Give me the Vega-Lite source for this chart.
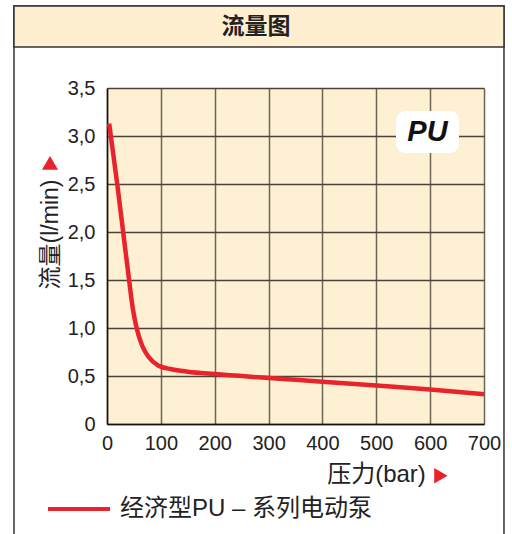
{
  "$schema": "https://vega.github.io/schema/vega-lite/v6.json",
  "autosize": "none",
  "width": 377,
  "height": 336,
  "padding": {"left": 107, "top": 88, "right": 28, "bottom": 110},
  "background": "white",
  "config": {
    "view": {"fill": "#fef0d2", "stroke": null},
    "font": "Liberation Sans, Noto Sans CJK SC"
  },
  "datasets": {
    "curve": [
      {"pressure": 4, "flow": 3.13, "series": "经济型PU – 系列电动泵"},
      {"pressure": 19, "flow": 2.5, "series": "经济型PU – 系列电动泵"},
      {"pressure": 30, "flow": 2.0, "series": "经济型PU – 系列电动泵"},
      {"pressure": 41, "flow": 1.5, "series": "经济型PU – 系列电动泵"},
      {"pressure": 48, "flow": 1.2, "series": "经济型PU – 系列电动泵"},
      {"pressure": 55, "flow": 1.0, "series": "经济型PU – 系列电动泵"},
      {"pressure": 65, "flow": 0.82, "series": "经济型PU – 系列电动泵"},
      {"pressure": 77, "flow": 0.7, "series": "经济型PU – 系列电动泵"},
      {"pressure": 95, "flow": 0.61, "series": "经济型PU – 系列电动泵"},
      {"pressure": 120, "flow": 0.57, "series": "经济型PU – 系列电动泵"},
      {"pressure": 150, "flow": 0.545, "series": "经济型PU – 系列电动泵"},
      {"pressure": 200, "flow": 0.52, "series": "经济型PU – 系列电动泵"},
      {"pressure": 300, "flow": 0.48, "series": "经济型PU – 系列电动泵"},
      {"pressure": 400, "flow": 0.44, "series": "经济型PU – 系列电动泵"},
      {"pressure": 500, "flow": 0.4, "series": "经济型PU – 系列电动泵"},
      {"pressure": 600, "flow": 0.36, "series": "经济型PU – 系列电动泵"},
      {"pressure": 700, "flow": 0.31, "series": "经济型PU – 系列电动泵"}
    ]
  },
  "layer": [
    {
      "data": {"name": "curve"},
      "mark": {"type": "line", "strokeWidth": 4.5, "interpolate": "monotone", "clip": false},
      "encoding": {
        "x": {
          "field": "pressure", "type": "quantitative",
          "scale": {"domain": [0, 700], "nice": false, "zero": false},
          "axis": {
            "values": [0, 100, 200, 300, 400, 500, 600, 700],
            "labelFontSize": 20, "labelColor": "#222", "labelPadding": 9, "labelFlush": false,
            "ticks": false, "domainColor": "#111", "domainWidth": 1.5,
            "gridColor": "#6e6454", "gridWidth": 1.5,
            "title": "压力(bar)", "titleFontSize": 24, "titleFontWeight": "normal", "titleColor": "#222",
            "titleX": 269, "titleY": 50, "titleAlign": "center", "titleBaseline": "middle"
          }
        },
        "y": {
          "field": "flow", "type": "quantitative",
          "scale": {"domain": [0, 3.5], "nice": false, "zero": false},
          "axis": {
            "values": [0, 0.5, 1, 1.5, 2, 2.5, 3, 3.5],
            "labelExpr": "datum.value == 0 ? '0' : replace(format(datum.value, '.1f'), '.', ',')",
            "labelFontSize": 20, "labelColor": "#222", "labelPadding": 12,
            "ticks": false, "domainColor": "#111", "domainWidth": 1.5,
            "gridColor": "#4a4438", "gridWidth": 1.5,
            "title": "流量(l/min)", "titleFontSize": 23, "titleFontWeight": "normal", "titleColor": "#222",
            "titleX": -57, "titleY": 146, "titleAngle": -90, "titleAlign": "center", "titleBaseline": "middle"
          }
        },
        "color": {
          "field": "series", "type": "nominal",
          "scale": {"range": ["#e8232b"]},
          "legend": {
            "orient": "none", "legendX": -61, "legendY": 388, "title": null,
            "symbolType": "stroke", "symbolSize": 3844, "symbolStrokeWidth": 4,
            "labelFontSize": 24, "labelColor": "#222", "labelOffset": 8, "padding": 0,
            "labelLimit": 400
          }
        }
      }
    },
    {
      "data": {"values": [{}]},
      "mark": {"type": "rect", "fillOpacity": 0, "stroke": "#333", "strokeWidth": 1.5, "clip": false},
      "encoding": {
        "x": {"datum": -172.7, "type": "quantitative"},
        "x2": {"datum": 737.1},
        "y": {"datum": 4.354, "type": "quantitative"},
        "y2": {"datum": -1.3}
      }
    },
    {
      "data": {"values": [{}]},
      "mark": {"type": "rect", "fill": "#fdefcf", "stroke": "#333", "strokeWidth": 1.5, "clip": false},
      "encoding": {
        "x": {"datum": -172.7, "type": "quantitative"},
        "x2": {"datum": 737.1},
        "y": {"datum": 4.354, "type": "quantitative"},
        "y2": {"datum": 3.927}
      }
    },
    {
      "data": {"values": [{"label": "流量图"}]},
      "mark": {"type": "text", "fontSize": 23, "fontWeight": "bold", "font": "Noto Sans CJK SC", "color": "#222", "baseline": "middle", "align": "center", "clip": false},
      "encoding": {
        "x": {"datum": 276.6, "type": "quantitative"},
        "y": {"datum": 4.135, "type": "quantitative"},
        "text": {"field": "label"}
      }
    },
    {
      "data": {"values": [{}]},
      "mark": {"type": "rect", "fill": "white", "cornerRadius": 9, "clip": false},
      "encoding": {
        "x": {"datum": 536.6, "type": "quantitative"},
        "x2": {"datum": 653.6},
        "y": {"datum": 2.823, "type": "quantitative"},
        "y2": {"datum": 3.26}
      }
    },
    {
      "data": {"values": [{"label": "PU"}]},
      "mark": {"type": "text", "fontSize": 29, "fontWeight": "bold", "fontStyle": "italic", "font": "Liberation Sans", "color": "#111", "baseline": "middle", "align": "center", "clip": false},
      "encoding": {
        "x": {"datum": 595, "type": "quantitative"},
        "y": {"datum": 3.04, "type": "quantitative"},
        "text": {"field": "label"}
      }
    },
    {
      "data": {"values": [{}]},
      "mark": {"type": "point", "shape": "triangle-right", "filled": true, "color": "#e8232b", "size": 240, "opacity": 1, "clip": false},
      "encoding": {
        "x": {"datum": 620, "type": "quantitative"},
        "y": {"datum": -0.54, "type": "quantitative"}
      }
    },
    {
      "data": {"values": [{}]},
      "mark": {"type": "point", "shape": "triangle-up", "filled": true, "color": "#e8232b", "size": 260, "opacity": 1, "clip": false},
      "encoding": {
        "x": {"datum": -105.8, "type": "quantitative"},
        "y": {"datum": 2.72, "type": "quantitative"}
      }
    }
  ]
}
